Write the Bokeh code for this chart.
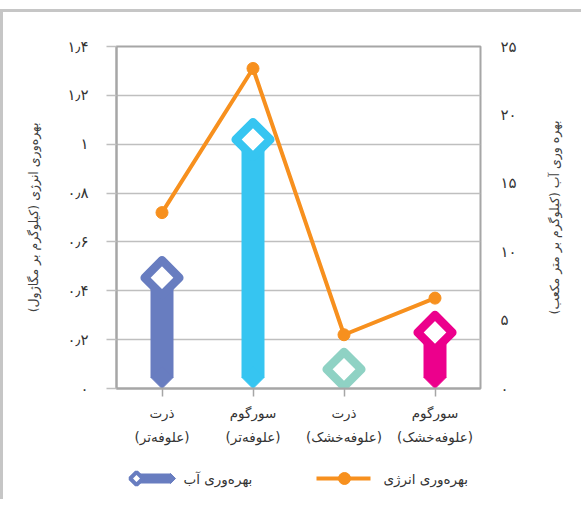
import math
from bokeh.plotting import figure
from bokeh.models import Range1d, LinearAxis, FixedTicker
from bokeh.layouts import gridplot
from bokeh.embed import file_html
from bokeh.resources import INLINE
from bokeh.core.properties import value

RLM = "\u200f"


def rtl(s):
    return "\n".join(RLM + line + RLM for line in s.split("\n"))


# ---------------- data ----------------
crops = ["ذرت", "سورگوم", "ذرت", "سورگوم"]
forage = ["(علوفه‌تر)", "(علوفه‌تر)", "(علوفه‌خشک)", "(علوفه‌خشک)"]
categories = [rtl(c + "\n" + f) for c, f in zip(crops, forage)]

water = [8.1, 18.2, 1.4, 4.1]          # بهره‌وری آب (kg/m3) – right axis
energy = [0.72, 1.31, 0.22, 0.37]      # بهره‌وری انرژی (kg/MJ) – left axis
bar_colors = ["#687DC0", "#36C5F1", "#8FD2C4", "#EC008C"]

energy_ticks = [0.0, 0.2, 0.4, 0.6, 0.8, 1.0, 1.2, 1.4]
energy_tick_labels = ["۰", "۰٫۲", "۰٫۴", "۰٫۶", "۰٫۸", "۱", "۱٫۲", "۱٫۴"]
water_ticks = [0.0, 5.0, 10.0, 15.0, 20.0, 25.0]
water_tick_labels = ["۰", "۵", "۱۰", "۱۵", "۲۰", "۲۵"]

left_title = "بهره‌وری انرژی (کیلوگرم بر مگاژول)"
right_title = "بهره وری آب (کیلوگرم بر متر مکعب)"
legend_water = "بهره‌وری آب"
legend_energy = "بهره‌وری انرژی"

# ---------------- style ----------------
FONT = "DejaVu Sans"
GRID = "#bfbfbf"
AXIS = "#a6a6a6"
TXT = "#333333"
ORANGE = "#F7901E"

FRAME_W, FRAME_H = 364, 342
MB_L, MB_R, MB_T, MB_B = 113, 45, 34, 66
W = MB_L + FRAME_W + MB_R
H = MB_T + FRAME_H + MB_B
SIDE_W = 56
W_MAX = water_ticks[-1]
E_MAX = energy_ticks[-1]
w_per_px = W_MAX / FRAME_H
cat_per_px = 1.0 / (FRAME_W / len(categories))

BAR_PX = 22
TIP_PX = BAR_PX / 2

p = figure(width=W, height=H, x_range=categories, y_range=Range1d(0, E_MAX),
           output_backend="svg", toolbar_location=None,
           min_border_left=MB_L, min_border_right=MB_R,
           min_border_top=MB_T, min_border_bottom=MB_B)
p.extra_y_ranges = {"water": Range1d(0, W_MAX)}

p.outline_line_color = AXIS
p.outline_line_width = 2
p.xgrid.grid_line_color = None
p.ygrid.grid_line_color = GRID
p.ygrid.grid_line_width = 1.5
p.ygrid.ticker = FixedTicker(ticks=energy_ticks)

# left axis
ya = p.yaxis[0]
ya.ticker = FixedTicker(ticks=energy_ticks)
ya.major_label_overrides = dict(zip(energy_ticks, energy_tick_labels))
ya.axis_line_color = AXIS
ya.axis_line_width = 2
ya.major_tick_line_color = GRID
ya.major_tick_line_width = 1.5
ya.major_tick_out = 10
ya.major_tick_in = 0
ya.minor_tick_line_color = None
ya.major_label_standoff = 18
ya.major_label_text_font = FONT
ya.major_label_text_font_size = "15px"
ya.major_label_text_color = TXT
ya.axis_label = rtl(left_title)
ya.axis_label_text_font = FONT
ya.axis_label_text_font_size = "12.5px"
ya.axis_label_text_font_style = "normal"
ya.axis_label_text_color = "#404040"
ya.axis_label_standoff = 24

# right axis (its title is drawn in the narrow strip to the right)
ra = LinearAxis(y_range_name="water", ticker=FixedTicker(ticks=water_ticks))
ra.major_label_overrides = dict(zip(water_ticks, water_tick_labels))
ra.axis_line_color = None
ra.major_tick_line_color = None
ra.minor_tick_line_color = None
ra.major_tick_out = 0
ra.major_label_standoff = 20
ra.major_label_text_font = FONT
ra.major_label_text_font_size = "15px"
ra.major_label_text_color = TXT
p.add_layout(ra, "right")

# bottom axis
xa = p.xaxis[0]
xa.axis_line_color = AXIS
xa.axis_line_width = 2
xa.major_tick_line_color = AXIS
xa.major_tick_line_width = 1.5
xa.major_tick_out = 8
xa.major_tick_in = 0
xa.major_label_standoff = 8
xa.major_label_text_font = FONT
xa.major_label_text_font_size = "13.5px"
xa.major_label_text_color = TXT
xa.major_label_text_line_height = 1.55

# bars (water productivity)
tip_h = TIP_PX * w_per_px
p.vbar(x=categories, bottom=tip_h, top=water, width=BAR_PX * cat_per_px,
       color=bar_colors, y_range_name="water")
p.scatter(x=categories, y=[tip_h] * len(categories), marker="square",
          angle=math.pi / 4, size=BAR_PX / math.sqrt(2), color=bar_colors,
          y_range_name="water")
p.scatter(x=categories, y=water, marker="square", angle=math.pi / 4, size=24.5,
          fill_color="white", line_color=bar_colors, line_width=8.5,
          line_join="round", y_range_name="water")

# energy line
p.line(x=categories, y=energy, line_color=ORANGE, line_width=4)
p.scatter(x=categories, y=energy, size=12, color=ORANGE)

# ---------------- right-axis title strip ----------------
side = figure(width=SIDE_W, height=H, x_range=Range1d(0, SIDE_W), y_range=Range1d(0, 1),
              output_backend="svg", toolbar_location=None,
              min_border_left=0, min_border_right=0,
              min_border_top=MB_T, min_border_bottom=MB_B,
              x_axis_type=None, y_axis_type=None)
side.grid.visible = False
side.outline_line_color = None
side.text(x=[SIDE_W / 2 + 1], y=[0.5], text=[rtl(right_title)], angle=math.pi / 2,
          text_font=value(FONT), text_font_size="12.5px", text_color="#404040",
          text_align="center", text_baseline="middle")

# ---------------- legend ----------------
# legend strip shares the chart frame's horizontal extent; x in page pixels 117..481
FRAME_X0, FRAME_X1 = 117, 481
LH = 45
lg = figure(width=W, height=LH, x_range=Range1d(FRAME_X0, FRAME_X1), y_range=Range1d(0, LH),
            output_backend="svg", toolbar_location=None,
            min_border_left=MB_L, min_border_right=MB_R,
            min_border_top=0, min_border_bottom=0,
            x_axis_type=None, y_axis_type=None)
lg.grid.visible = False
lg.outline_line_color = None
ly = LH - 24
lg.segment(x0=[137], y0=[ly], x1=[171], y1=[ly], line_width=10, line_color=bar_colors[0])
lg.scatter(x=[171], y=[ly], marker="square", angle=math.pi / 4, size=7.1,
           color=bar_colors[0])
lg.scatter(x=[137], y=[ly], marker="square", angle=math.pi / 4, size=9,
           fill_color="white", line_color=bar_colors[0], line_width=4)
lg.text(x=[184], y=[ly], text=[rtl(legend_water)], text_font=value(FONT),
        text_font_size="13.5px", text_color=TXT, text_align="left", text_baseline="middle")
lg.segment(x0=[317], y0=[ly], x1=[371], y1=[ly], line_width=4, line_color=ORANGE)
lg.scatter(x=[345], y=[ly], size=12, color=ORANGE)
lg.text(x=[384], y=[ly], text=[rtl(legend_energy)], text_font=value(FONT),
        text_font_size="13.5px", text_color=TXT, text_align="left", text_baseline="middle")

layout = gridplot([[p, side], [lg, None]], toolbar_location=None)
layout.styles = {"border-left": "3px solid #c6c6c6", "border-top": "3px solid #c6c6c6",
                 "margin-top": "9px"}

open("out.html", "w").write(file_html(layout, INLINE))
